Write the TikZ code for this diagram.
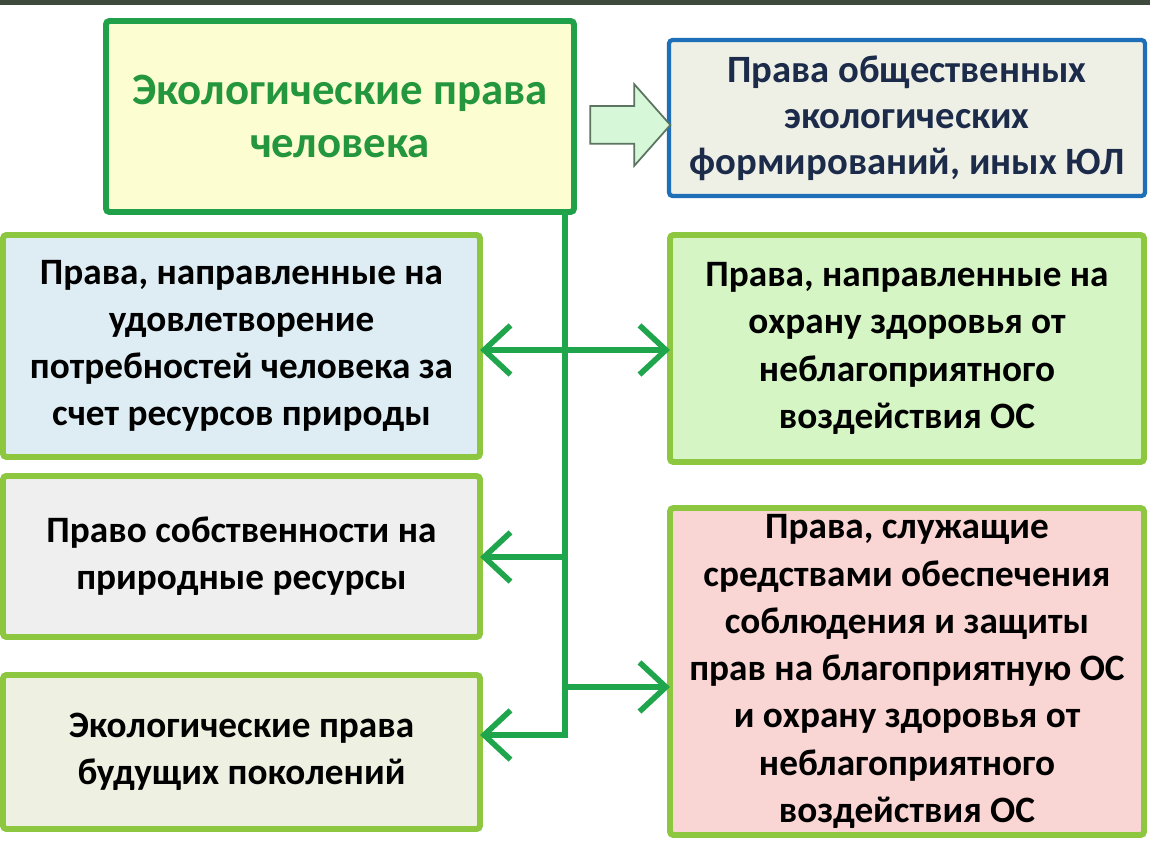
\documentclass[tikz,border=0pt]{standalone}
\usepackage{fontspec}
\setmainfont{Carlito}
\usetikzlibrary{arrows.meta,shapes.arrows}
\definecolor{bandc}{HTML}{3E4A3C}
\definecolor{maingreen}{HTML}{21A04A}
\definecolor{titlegreen}{HTML}{23963E}
\definecolor{lgreen}{HTML}{8DC63F}
\definecolor{bluebord}{HTML}{1E6FB8}
\definecolor{bluefill}{HTML}{EEF0E6}
\definecolor{bluetext}{HTML}{1C2B4A}
\definecolor{yfill}{HTML}{FDFDD2}
\definecolor{lonefill}{HTML}{DDEDF3}
\definecolor{ronefill}{HTML}{D5F5C5}
\definecolor{ltwofill}{HTML}{EFEFEF}
\definecolor{lthreefill}{HTML}{EEF1E2}
\definecolor{rtwofill}{HTML}{F9D5D3}
\definecolor{connc}{HTML}{1FA64C}
\definecolor{harrowfill}{HTML}{D7F7D9}
\definecolor{harrowdraw}{HTML}{5B7561}
\begin{document}
\begin{tikzpicture}[x=0.02cm,y=-0.02cm,
  box/.style={draw=lgreen, line width=3.4pt, rounded corners=2pt, inner sep=0pt, outer sep=0pt,
    align=center, font=\bfseries\fontsize{21.2}{26.9}\selectfont, text=black},
  conn/.style={draw=connc, line width=3.2pt},
  barb/.style={conn, -{Straight Barb[length=15pt,width=28pt,line width=3.2pt]}}
]
\useasboundingbox (0,0) rectangle (1150,864);
\fill[white] (0,0) rectangle (1150,864);
\fill[bandc] (0,0) rectangle (1150,5);

% boxes
\node[box, draw=maingreen, fill=yfill, text=titlegreen, font=\bfseries\fontsize{25.5}{30}\selectfont,
  minimum width=468*0.02cm, minimum height=191*0.02cm] (main) at (340,116.5)
  {Экологические права\\человека};
\node[box, draw=bluebord, line width=2.4pt, fill=bluefill, text=bluetext,
  font=\bfseries\fontsize{22}{26.2}\selectfont,
  minimum width=476*0.02cm, minimum height=156*0.02cm] (jl) at (907,118)
  {Права общественных\\экологических\\формирований, иных ЮЛ};
\node[box, fill=lonefill, minimum width=477*0.02cm, minimum height=222*0.02cm] (l1) at (241.5,346)
  {Права, направленные на\\удовлетворение\\потребностей человека за\\счет ресурсов природы};
\node[box, fill=ronefill, minimum width=474*0.02cm, minimum height=227*0.02cm] (r1) at (907,348.5)
  {Права, направленные на\\охрану здоровья от\\неблагоприятного\\воздействия ОС};
\node[box, fill=ltwofill, minimum width=477*0.02cm, minimum height=161*0.02cm] (l2) at (241.5,556.5)
  {Право собственности на\\природные ресурсы};
\node[box, fill=lthreefill, minimum width=477*0.02cm, minimum height=154*0.02cm] (l3) at (241.5,752)
  {Экологические права\\будущих поколений};
\node[box, fill=rtwofill, minimum width=474*0.02cm, minimum height=327*0.02cm] (r2) at (907,671.5)
  {Права, служащие\\средствами обеспечения\\соблюдения и защиты\\прав на благоприятную ОС\\и охрану здоровья от\\неблагоприятного\\воздействия ОС};

% hollow arrow
\node[single arrow, draw=harrowdraw, line width=1pt, fill=harrowfill,
  minimum height=1.6cm, inner sep=0.36cm, single arrow head extend=0.44cm,
  single arrow tip angle=97] (ha) at (622,125) {};

% connectors
\coordinate (v0) at (565,350);
\coordinate (v1) at (565,557);
\coordinate (v2) at (565,687);
\coordinate (vb) at (565,735);
\draw[barb] (main.south -| vb) -- (vb) -- (l3.east |- vb);
\draw[barb] (v0) -- (l1.east |- v0);
\draw[barb] (v0) -- (r1.west |- v0);
\draw[barb] (v1) -- (l2.east |- v1);
\draw[barb] (v2) -- (r2.west |- v2);
\end{tikzpicture}
\end{document}
